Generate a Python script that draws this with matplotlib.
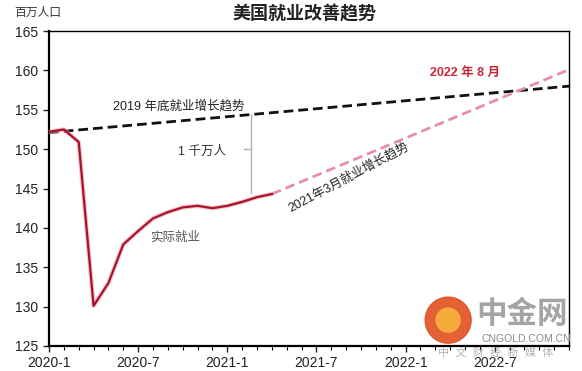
import numpy as np
import matplotlib
matplotlib.use('Agg')
from matplotlib import pyplot as plt
from matplotlib.patches import Ellipse

plt.rcParams['font.family'] = ['Liberation Sans', 'Noto Sans CJK SC', 'DejaVu Sans']

# 月份序号: 0 = 2020-1
months = list(range(0, 16))
actual = [152.2, 152.5, 150.9, 130.1, 133.0, 137.9, 139.6, 141.2, 142.0,
          142.6, 142.8, 142.5, 142.8, 143.3, 143.9, 144.3]
trend2019_x = [0, 35]
trend2019_y = [152.1, 158.0]
trend2021_x = [15, 35]
trend2021_y = [144.3, 160.1]

tick_pos = [0, 6, 12, 18, 24, 30]
tick_lab = ['2020-1', '2020-7', '2021-1', '2021-7', '2022-1', '2022-7']

fig = plt.figure(figsize=(5.82, 3.71), dpi=100)
ax = fig.add_axes([0.0842, 0.0674, 0.8935, 0.849])

ax.plot(trend2019_x, trend2019_y, color='#111111', lw=2.0, ls=(0, (3.5, 1.8)), zorder=2)
ax.plot(trend2021_x, trend2021_y, color='#e590a5', lw=2.0, ls=(0, (3.5, 1.8)), zorder=2)
ax.plot(months, actual, color='#f0a0a8', lw=3.2, alpha=0.6, zorder=3)
ax.plot(months, actual, color='#a8122c', lw=1.6, zorder=4)

# 1千万人 标注
ax.plot([13.6, 13.6], [154.4, 144.4], color='#b0b0b0', lw=1.0, zorder=1)
ax.plot([13.1, 13.6], [150.0, 150.0], color='#b0b0b0', lw=1.0, zorder=1)
ax.text(10.3, 149.6, '1 千万人', fontsize=9, color='#333333', ha='center', va='center')

ax.text(8.7, 155.5, '2019 年底就业增长趋势', fontsize=9, color='#222222', ha='center', va='center')
ax.text(20.2, 146.4, '2021年3月就业增长趋势', fontsize=9, color='#222222', ha='center', va='center',
        rotation=28, rotation_mode='anchor')
ax.text(28.0, 159.7, '2022 年 8 月', fontsize=9, color='#c8283a', ha='center', va='center',
        fontweight='bold')
ax.text(8.5, 138.8, '实际就业', fontsize=9, color='#555555', ha='center', va='center')

ax.set_xlim(0, 35)
ax.set_ylim(125, 165)
ax.set_yticks(np.arange(125, 166, 5))
ax.set_xticks(tick_pos)
ax.set_xticklabels(tick_lab)
ax.set_xticks(range(0, 36), minor=True)
ax.tick_params(axis='both', direction='out', labelsize=10, colors='#222222', length=4, width=1)
ax.tick_params(axis='x', which='minor', direction='out', length=3, width=0.8)
for s in ['left', 'bottom']:
    ax.spines[s].set_linewidth(1.6)
for s in ['top', 'right']:
    ax.spines[s].set_linewidth(1.0)

fig.text(0.523, 0.962, '美国就业改善趋势', fontsize=13, fontweight='bold', ha='center', va='center',
         color='#222222')
fig.text(0.025, 0.965, '百万人口', fontsize=8.5, ha='left', va='center', color='#333333')

# 水印
logo = Ellipse((0.770, 0.137), 46 / 582, 46 / 371, transform=fig.transFigure,
               color='#e0501e', alpha=0.9, zorder=10)
fig.patches.append(logo)
logo2 = Ellipse((0.770, 0.137), 24 / 582, 24 / 371, transform=fig.transFigure,
                color='#f7b33c', alpha=0.9, zorder=11)
fig.patches.append(logo2)
fig.text(0.897, 0.151, '中金网', fontsize=22, fontweight='bold', color='#9a9a9a', ha='center',
         va='center', alpha=0.9)
fig.text(0.905, 0.086, 'CNGOLD.COM.CN', fontsize=7.5, color='#8a8a8a', ha='center', va='center')
fig.text(0.851, 0.049, '中  文  财  经  新  媒  体', fontsize=8, color='#a0a0a0', ha='center',
         va='center', alpha=0.8)

fig.savefig('out.png', dpi=100)
